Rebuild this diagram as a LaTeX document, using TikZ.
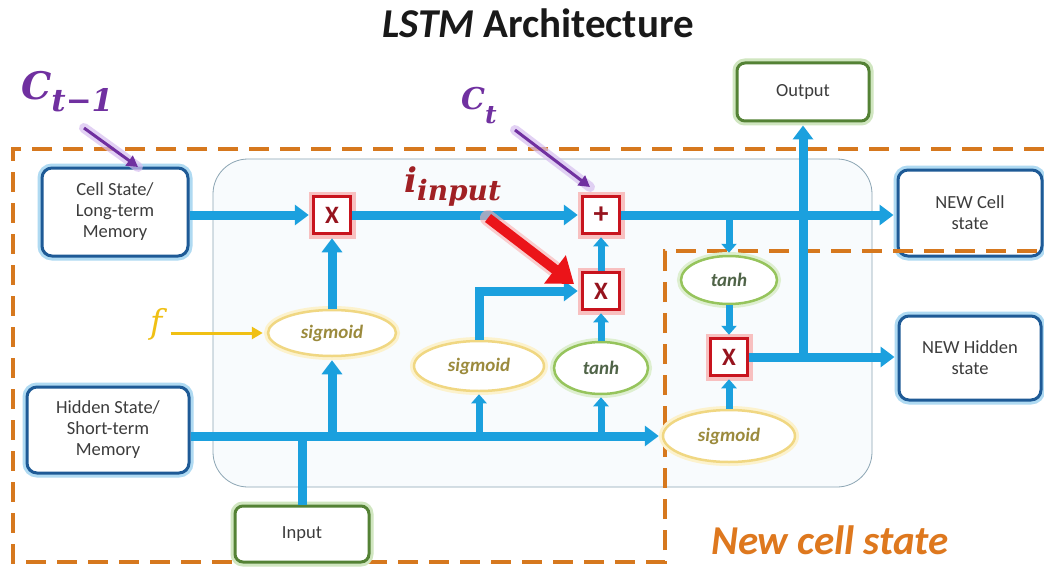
\documentclass[tikz,border=0pt]{standalone}
\usepackage{fontspec}
\setmainfont{Carlito}
\newfontfamily\labelserif{DejaVu Serif}
\usetikzlibrary{arrows.meta,shapes.geometric,calc}

\definecolor{flowblue}{RGB}{27,160,222}
\definecolor{boxblue}{RGB}{30,90,150}
\definecolor{glowblue}{RGB}{175,218,242}
\definecolor{opred}{RGB}{200,20,30}
\definecolor{glowred}{RGB}{248,192,192}
\definecolor{xred}{RGB}{150,20,30}
\definecolor{boxgreen}{RGB}{84,130,53}
\definecolor{glowgreen}{RGB}{208,230,192}
\definecolor{sigline}{RGB}{240,215,130}
\definecolor{sigglow}{RGB}{252,242,205}
\definecolor{sigtext}{RGB}{155,138,60}
\definecolor{tanhline}{RGB}{150,196,92}
\definecolor{tanhglow}{RGB}{222,239,208}
\definecolor{tanhtext}{RGB}{80,100,72}
\definecolor{dashorange}{RGB}{214,120,30}
\definecolor{labelpurple}{RGB}{112,48,160}
\definecolor{purpleglow}{RGB}{215,190,240}
\definecolor{inputred}{RGB}{160,32,36}
\definecolor{arrowred}{RGB}{235,20,25}
\definecolor{redglow}{RGB}{250,175,175}
\definecolor{fgold}{RGB}{240,192,20}
\definecolor{cellfill}{RGB}{248,251,253}
\definecolor{cellline}{RGB}{140,165,180}
\definecolor{textgray}{RGB}{60,60,60}
\definecolor{newcellorange}{RGB}{222,120,30}

\tikzset{
  statebox/.style={draw=boxblue, line width=3pt, rounded corners=10pt, fill=white,
    preaction={draw=glowblue, line width=9pt}, text=textgray, align=center,
    inner sep=0pt, font=\fontsize{18.5}{21}\selectfont},
  iobox/.style={draw=boxgreen, line width=3pt, rounded corners=8pt, fill=white,
    preaction={draw=glowgreen, line width=9pt}, text=textgray, align=center,
    inner sep=0pt, font=\fontsize{18.5}{21}\selectfont},
  opbox/.style={draw=opred, line width=3.5pt, fill=white, preaction={draw=glowred, line width=10pt},
    minimum size=37pt, inner sep=0pt, text=xred, font=\fontsize{25}{25}\selectfont\bfseries},
  sigbox/.style={ellipse, draw=sigline, line width=2.5pt, fill=white,
    preaction={draw=sigglow, line width=8pt}, inner sep=0pt, text=sigtext,
    font=\fontsize{19}{21}\selectfont\bfseries\itshape},
  tanhbox/.style={ellipse, draw=tanhline, line width=2.5pt, fill=white,
    preaction={draw=tanhglow, line width=8pt}, inner sep=0pt, text=tanhtext,
    font=\fontsize{19}{21}\selectfont\bfseries\itshape},
  flow/.style={draw=flowblue, line width=9pt, -{Triangle[length=14pt,width=20pt]}, shorten >=3pt},
  flowsmall/.style={draw=flowblue, line width=7pt, -{Triangle[length=9pt,width=15pt]}, shorten >=2pt},
  flowplain/.style={draw=flowblue, line width=9pt},
  purplearrow/.style={draw=labelpurple, line width=3pt, -{Triangle[length=11pt,width=12pt]}},
  mathlabel/.style={inner sep=0pt, anchor=base west},
}

\begin{document}
\begin{tikzpicture}[x=1pt,y=-1pt]
\useasboundingbox (0,0) rectangle (1044,567);
\fill[white] (0,0) rectangle (1044,567);

% title
\node[anchor=base, font=\fontsize{41}{42}\selectfont\bfseries, text=black!90] (title)
  at (538,38) {\textit{LSTM} Architecture};

% cell body
\draw[cellline, fill=cellfill, line width=0.8pt, rounded corners=35pt] (213,159) rectangle (872,487);

% state box drawn below the dashed outline
\node[statebox, minimum width=144pt, minimum height=86pt] (newcell) at (970,213) {NEW Cell\\state};

% dashed outline of the new cell state region
\draw[dashorange, line width=4pt, dash pattern=on 20pt off 11pt]
  (1044,149) -- (13,149) -- (13,562) -- (665,562) -- (665,251) -- (1044,251);

% external boxes
\node[statebox, minimum width=146pt, minimum height=88pt] (cell) at (115,212) {Cell State/\\Long-term\\Memory};
\node[statebox, minimum width=162pt, minimum height=86pt] (hidden) at (108,430) {Hidden State/\\Short-term\\Memory};
\node[statebox, minimum width=142pt, minimum height=84pt] (newhidden) at (970,358) {NEW Hidden\\state};
\node[iobox, minimum width=134pt, minimum height=56pt] (input) at (302,534) {Input};
\node[iobox, minimum width=132pt, minimum height=58pt] (output) at (803,92) {Output};

% operations
\node[opbox] (x1) at (332,215) {X};
\node[opbox, font=\fontsize{30}{30}\selectfont\bfseries] (plus) at (601,215) {+};
\node[opbox] (x2) at (601,291) {X};
\node[opbox] (x3) at (729,357) {X};

% gates
\node[sigbox, minimum width=128pt, minimum height=46pt] (sigA) at (332,333) {sigmoid};
\node[sigbox, minimum width=130pt, minimum height=50pt] (sigB) at (479,366) {sigmoid};
\node[tanhbox, minimum width=94pt, minimum height=52pt] (tanhA) at (601,368) {tanh};
\node[tanhbox, minimum width=96pt, minimum height=48pt] (tanhB) at (729,280) {tanh};
\node[sigbox, minimum width=132pt, minimum height=52pt] (sigC) at (729,436) {sigmoid};

% cell state path
\draw[flow] (cell.east |- x1.west) -- (x1.west);
\draw[flow] (x1.east) -- (plus.west);
\draw[flow] (plus.east) -- (newcell.west |- plus.east);
\coordinate (tapC) at (tanhB.north |- plus.east);
\draw[flowsmall] (tapC) -- (tanhB.north);
\draw[flowsmall] (tanhB.south) -- (x3.north);
\draw[flowsmall] (sigC.north) -- (x3.south);
\draw[flow] (x3.east) -- (newhidden.west |- x3.east);
\coordinate (tapO) at (output.south |- x3.east);
\draw[flow] ([yshift=4pt]tapO) -- (output.south);

% hidden state path
\coordinate (hidRow) at (hidden.east |- sigC.west);
\draw[flow] (hidRow) -- (sigC.west);
\draw[flowplain] (input.north) -- (input.north |- sigC.west);
\draw[flow] (sigA.south |- sigC.west) -- (sigA.south);
\draw[flowsmall] (sigB.south |- sigC.west) -- (sigB.south);
\draw[flowsmall] (tanhA.south |- sigC.west) -- (tanhA.south);
\draw[flow] (sigA.north) -- (x1.south);
\draw[flow] (sigB.north) |- (x2.west);
\draw[flowsmall] (tanhA.north) -- (x2.south);
\draw[flowsmall] (x2.north) -- (plus.south);

% labels
\node[mathlabel, text=labelpurple] (ctm1) at (21,100)
  {\labelserif\bfseries\itshape\fontsize{38}{38}\selectfont C\raisebox{-12pt}{\fontsize{31}{31}\selectfont t−1}};
\coordinate (ctm1tail) at (84,128);
\coordinate (ctm1tip) at (138,167);
\draw[purpleglow, line width=10pt, line cap=round, opacity=0.7] (ctm1tail) -- (ctm1tip);
\draw[purplearrow] (ctm1tail) -- (ctm1tip);

\node[mathlabel, text=labelpurple] (ct) at (461,110)
  {\labelserif\bfseries\itshape\fontsize{30}{30}\selectfont C\raisebox{-14pt}{\fontsize{25}{25}\selectfont t}};
\coordinate (cttail) at (515,130);
\coordinate (cttip) at (590,187);
\draw[purpleglow, line width=10pt, line cap=round, opacity=0.7] (cttail) -- (cttip);
\draw[purplearrow] (cttail) -- (cttip);

\node[mathlabel, text=inputred] (iinput) at (404,192)
  {\labelserif\bfseries\itshape\fontsize{34}{34}\selectfont i\raisebox{-9pt}{\fontsize{28}{28}\selectfont input}};
\coordinate (itail) at (488,218);
\coordinate (itip) at (574,284);
\draw[redglow, line width=16pt, line cap=round, opacity=0.6] (itail) -- ($(itip)!14pt!(itail)$);
\draw[arrowred, line width=10pt, -{Triangle[length=24pt,width=34pt]}] (itail) -- (itip);

\node[mathlabel, text=fgold] (f) at (150,333)
  {\labelserif\itshape\fontsize{33}{33}\selectfont f};
\draw[fgold, line width=3pt, -{Triangle[length=11pt,width=12pt]}, shorten >=4pt] (f.east |- sigA.west) ++(8,0) -- (sigA.west);

\node[anchor=base west, font=\fontsize{41}{41}\selectfont\bfseries\itshape, text=newcellorange, inner sep=0pt]
  (newstate) at (711,554) {New cell state};
\end{tikzpicture}
\end{document}
